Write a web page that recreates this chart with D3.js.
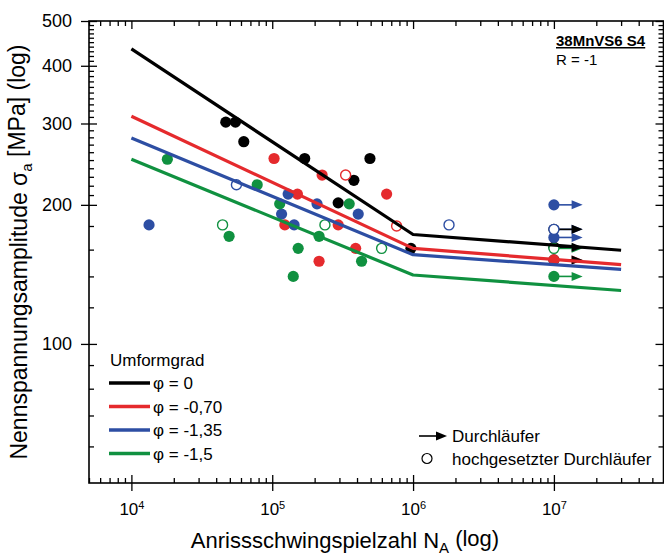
<!DOCTYPE html>
<html lang="de">
<head>
<meta charset="UTF-8">
<title>38MnVS6 S4 - Wöhlerlinien</title>
<script src="https://cdnjs.cloudflare.com/ajax/libs/d3/7.8.5/d3.min.js"></script>
<style>
  body { margin: 0; background: #fff; }
  svg { font-family: "Liberation Sans", Arial, Helvetica, sans-serif; }
</style>
</head>
<body>
<svg id="chart" width="664" height="560"></svg>
<script>
// Wöhlerlinien: Knickpunkte bei N = 1e4, 1e6, 3e7
const curveN = [1e4, 1e6, 3e7];
const curvePhi0 = [435, 172.5, 159.5];
const curvePhi070 = [311, 161, 148.5];
const curvePhi135 = [279, 156, 145];
const curvePhi15 = [251, 141, 130.5];

// Versuchspunkte [N, sigma_a]
const pointsPhi0 = [[46800, 302], [54800, 302], [62800, 274], [170000, 252], [294000, 202],
                    [380000, 226], [494000, 252], [966000, 161]];
const runoutsPhi0 = [[1e7, 177], [1e7, 162], [1e7, 152]];

const pointsPhi070 = [[103000, 252], [226000, 232], [151000, 211], [649000, 211], [122900, 181],
                      [294000, 181], [391000, 161], [215000, 151]];
const openPhi070 = [[332000, 232], [764000, 180]];
const runoutsPhi070 = [[1e7, 152]];

const pointsPhi135 = [[13340, 181], [129700, 211], [208000, 201], [116500, 191], [143000, 181],
                      [408000, 191]];
const openPhi135 = [[55700, 221], [1.8e6, 181]];
const runoutsPhi135 = [[1e7, 200], [1e7, 170]];
const openRunoutsPhi135 = [[1e7, 177]];

const pointsPhi15 = [[18000, 251], [78200, 221], [113000, 201], [352000, 201], [49400, 171],
                     [152800, 161], [215000, 171], [431000, 151], [141000, 140]];
const openPhi15 = [[44400, 181], [598000, 161], [236700, 181]];
const runoutsPhi15 = [[1e7, 140]];
const openRunoutsPhi15 = [[1e7, 161]];

const legendLabels = ["φ = 0", "φ = -0,70", "φ = -1,35", "φ = -1,5"];
const xMajor = [1e4, 1e5, 1e6, 1e7];
const yMajor = [100, 200, 300, 400, 500];
const yMinor = [60, 70, 80, 90, 120, 140, 160, 180]
  .concat(d3.range(210, 500, 10).filter(d => d % 100 !== 0));

const colors = ["#000000", "#e52a2d", "#2d4ea3", "#109140"];

const series = [
  {curve: curvePhi0, filled: pointsPhi0, open: [], runs: runoutsPhi0, openRuns: []},
  {curve: curvePhi070, filled: pointsPhi070, open: openPhi070, runs: runoutsPhi070, openRuns: []},
  {curve: curvePhi135, filled: pointsPhi135, open: openPhi135, runs: runoutsPhi135, openRuns: openRunoutsPhi135},
  {curve: curvePhi15, filled: pointsPhi15, open: openPhi15, runs: runoutsPhi15, openRuns: openRunoutsPhi15}
];

const svg = d3.select("#chart");
const m = {left: 89, right: 663.5, top: 21, bottom: 483};

const x = d3.scaleLog().domain([5e3, 6e7]).range([m.left, m.right]);
const y = d3.scaleLog().domain([50, 500]).range([m.bottom, m.top]);
const xMinor = x.ticks().filter(d => !xMajor.includes(d));

function tidy(g, size) {
  g.attr("font-family", null).attr("font-size", size);
  g.select(".domain").remove();
  g.selectAll(".tick line").attr("stroke", "#000").attr("stroke-width", 1.3);
  g.selectAll(".tick text").attr("fill", "#000");
}

// bottom axis
const xb = svg.append("g").attr("transform", `translate(0,${m.bottom})`)
  .call(d3.axisBottom(x).tickValues(xMajor).tickSize(8).tickPadding(12))
  .call(tidy, 17);
xb.selectAll(".tick line").attr("y1", -8);
xb.selectAll(".tick text").each(function(d) {
  const t = d3.select(this).text("");
  t.append("tspan").text("10");
  t.append("tspan").attr("dy", "-0.55em").attr("font-size", 11).text(Math.round(Math.log10(d)));
});
svg.append("g").attr("transform", `translate(0,${m.bottom})`)
  .call(d3.axisBottom(x).tickValues(xMinor).tickSize(-5).tickFormat(""))
  .call(tidy, 10);

// top axis
svg.append("g").attr("transform", `translate(0,${m.top})`)
  .call(d3.axisTop(x).tickValues(xMajor).tickSize(-8).tickFormat(""))
  .call(tidy, 10);
svg.append("g").attr("transform", `translate(0,${m.top})`)
  .call(d3.axisTop(x).tickValues(xMinor).tickSize(-5).tickFormat(""))
  .call(tidy, 10);

// left axis
const yl = svg.append("g").attr("transform", `translate(${m.left},0)`)
  .call(d3.axisLeft(y).tickValues(yMajor).tickFormat(d3.format("d")).tickSize(8).tickPadding(9))
  .call(tidy, 18);
yl.selectAll(".tick line").attr("x1", 8);
svg.append("g").attr("transform", `translate(${m.left},0)`)
  .call(d3.axisLeft(y).tickValues(yMinor).tickSize(-5).tickFormat(""))
  .call(tidy, 10);

// right axis
svg.append("g").attr("transform", `translate(${m.right},0)`)
  .call(d3.axisRight(y).tickValues(yMajor).tickSize(-8).tickFormat(""))
  .call(tidy, 10);
svg.append("g").attr("transform", `translate(${m.right},0)`)
  .call(d3.axisRight(y).tickValues(yMinor).tickSize(-5).tickFormat(""))
  .call(tidy, 10);

// frame
svg.append("rect")
  .attr("x", m.left).attr("y", m.top)
  .attr("width", m.right - m.left).attr("height", m.bottom - m.top)
  .attr("fill", "none").attr("stroke", "#000").attr("stroke-width", 1.6);

// axis titles
const yt = svg.append("text")
  .attr("transform", `translate(27,${(m.top + m.bottom) / 2}) rotate(-90)`)
  .attr("text-anchor", "middle").attr("font-size", 23);
yt.append("tspan").text("Nennspannungsamplitude σ");
yt.append("tspan").attr("dy", "0.3em").attr("font-size", 15).text("a");
yt.append("tspan").attr("dy", "-0.3em").text(" [MPa] (log)");

const xt = svg.append("text")
  .attr("x", 345).attr("y", 548)
  .attr("text-anchor", "middle").attr("font-size", 22);
xt.append("tspan").text("Anrissschwingspielzahl N");
xt.append("tspan").attr("dy", "0.3em").attr("font-size", 15).text("A");
xt.append("tspan").attr("dy", "-0.3em").text(" (log)");

// points
const plot = svg.append("g");
const arrows = svg.append("g");
const r = 5.6;
const tipN = 1.6e7;

function runout(g, d, color, gap) {
  const x0 = x(d[0]) + gap, x1 = x(tipN), yy = y(d[1]);
  g.append("line").attr("x1", x0).attr("x2", x1 - 8).attr("y1", yy).attr("y2", yy)
    .attr("stroke", color).attr("stroke-width", 1.6);
  g.append("path")
    .attr("d", `M${x1},${yy}L${x1 - 11},${yy - 4.5}L${x1 - 11},${yy + 4.5}Z`)
    .attr("fill", color);
}

series.forEach((s, i) => {
  const c = colors[i];
  const g = plot.append("g");
  // black run-out arrows sit on top of the coloured ones
  if (i === 0) s.runs.forEach(d => runout(arrows, d, c, r));
  else s.runs.concat(s.openRuns).forEach(d => runout(g, d, c, 0));
  g.selectAll("circle.f").data(s.filled.concat(s.runs)).join("circle")
    .attr("class", "f")
    .attr("cx", d => x(d[0])).attr("cy", d => y(d[1])).attr("r", r)
    .attr("fill", c);
  g.selectAll("circle.o").data(s.open.concat(s.openRuns)).join("circle")
    .attr("class", "o")
    .attr("cx", d => x(d[0])).attr("cy", d => y(d[1])).attr("r", r - 0.6)
    .attr("fill", "#fff").attr("stroke", c).attr("stroke-width", 1.4);
});
arrows.raise();

// curves
const line = d3.line().x(d => x(d[0])).y(d => y(d[1]));
series.forEach((s, i) => {
  svg.append("path")
    .datum(curveN.map((n, k) => [n, s.curve[k]]))
    .attr("d", line)
    .attr("fill", "none")
    .attr("stroke", colors[i])
    .attr("stroke-width", 3.2)
    .attr("stroke-linejoin", "round");
});

// legend Umformgrad
const lg = svg.append("g").attr("font-size", 17);
lg.append("text").attr("x", 110).attr("y", 366).text("Umformgrad");
legendLabels.forEach((lab, i) => {
  const yy = 383 + i * 23.5;
  lg.append("line").attr("x1", 109).attr("x2", 150).attr("y1", yy).attr("y2", yy)
    .attr("stroke", colors[i]).attr("stroke-width", 3.5);
  lg.append("text").attr("x", 153).attr("y", yy + 6).text(lab);
});

// legend Durchläufer
const ld = svg.append("g").attr("font-size", 17);
ld.append("line").attr("x1", 419).attr("x2", 437).attr("y1", 436).attr("y2", 436)
  .attr("stroke", "#000").attr("stroke-width", 1.6);
ld.append("path").attr("d", "M447,436L436,431.5L436,440.5Z").attr("fill", "#000");
ld.append("text").attr("x", 452).attr("y", 442).text("Durchläufer");
ld.append("circle").attr("cx", 427).attr("cy", 458.5).attr("r", 5)
  .attr("fill", "none").attr("stroke", "#000").attr("stroke-width", 1.2);
ld.append("text").attr("x", 452).attr("y", 464.5).text("hochgesetzter Durchläufer");

// Werkstoff
svg.append("text").attr("x", 556).attr("y", 46)
  .attr("font-size", 15).attr("font-weight", "bold")
  .attr("text-decoration", "underline").text("38MnVS6 S4");
svg.append("text").attr("x", 556).attr("y", 64.5)
  .attr("font-size", 15).text("R = -1");
</script>
</body>
</html>
